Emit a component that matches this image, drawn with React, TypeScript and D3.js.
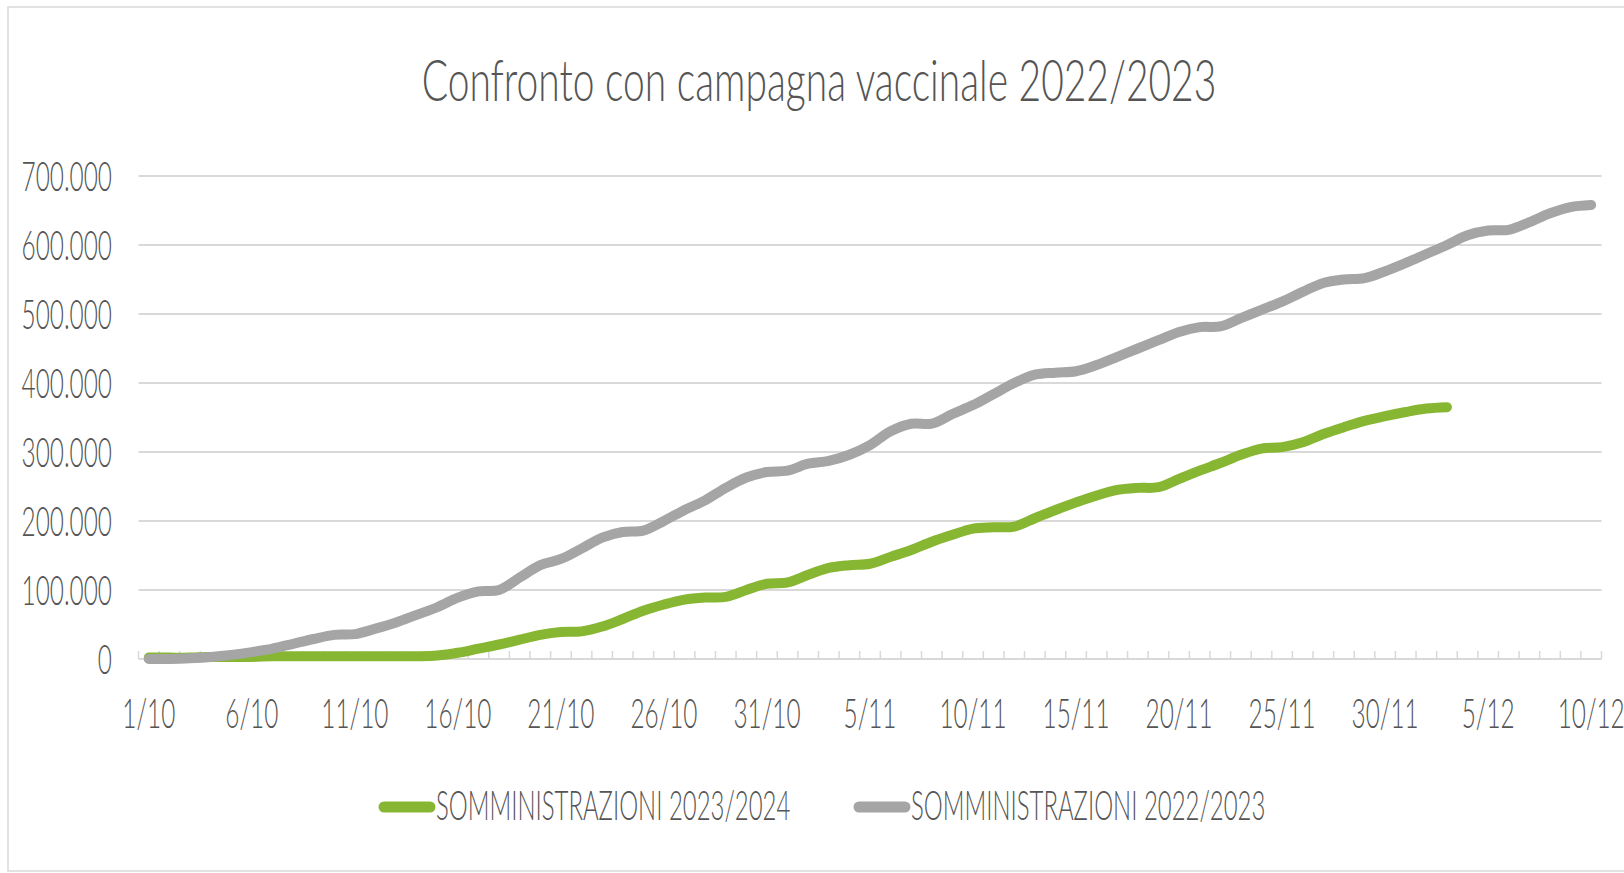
import * as d3 from "d3";

const W = 1624;
const H = 873;

const title = "Confronto con campagna vaccinale 2022/2023";
const seriesNames = ["SOMMINISTRAZIONI 2023/2024", "SOMMINISTRAZIONI 2022/2023"];
const seriesColors = ["#87b732", "#a5a5a5"];

// categories: one per day, 1/10 .. 10/12
const days = d3.timeDay.range(new Date(2023, 9, 1), new Date(2023, 11, 11));
const dayLabel = (d: Date) => `${d.getDate()}/${d.getMonth() + 1}`;
const tickLabels = ["1/10", "6/10", "11/10", "16/10", "21/10", "26/10", "31/10", "5/11", "10/11", "15/11", "20/11", "25/11", "30/11", "5/12", "10/12"];
const yTicks = [0, 100000, 200000, 300000, 400000, 500000, 600000, 700000];

// cumulative doses (thousands)
const doses2324 = [
  2, 2, 2, 3, 3, 3, 4, 4, 4, 4, 4, 4, 4, 4, 5, 9, 15, 21, 28, 35,
  39, 40, 47, 58, 70, 79, 86, 89, 90, 100, 109, 111, 122, 132, 136, 138, 148, 158, 170, 180,
  189, 191, 192, 204, 216, 227, 237, 245, 248, 249, 261, 273, 284, 296, 305, 307, 314, 326, 336, 345,
  352, 358, 363, 365,
];
const doses2223 = [
  0, 0, 1, 3, 6, 10, 15, 22, 29, 35, 36, 44, 53, 64, 75, 89, 98, 100, 118, 136,
  145, 160, 176, 184, 186, 200, 216, 230, 248, 263, 271, 273, 283, 287, 296, 310, 330, 341, 341, 355,
  368, 384, 400, 412, 415, 417, 426, 438, 450, 462, 474, 481, 482, 494, 506, 518, 532, 545, 550, 552,
  562, 574, 587, 600, 614, 621, 622, 633, 646, 655, 658,
];

const FONT = "Lato, 'Open Sans', sans-serif";
const TXT = "#555555";
const GRID = "#d9d9d9";

const itFormat = d3.formatLocale({ decimal: ",", thousands: ".", grouping: [3], currency: ["€", ""] }).format(",");

function Label({ x, y, anchor, size, sx = 0.58, children }: { x: number; y: number; anchor: string; size: number; sx?: number; children: any }) {
  return (
    <text
      transform={`translate(${x},${y}) scale(${sx},1)`}
      textAnchor={anchor}
      fontSize={size}
      fontFamily={FONT}
      fontWeight={300}
      fill={TXT}
    >
      {children}
    </text>
  );
}

export default function App() {
  const x = d3.scaleBand<string>().domain(days.map(dayLabel)).range([138.5, 1601.5]).padding(0);
  const bw = x.bandwidth();
  const y = d3.scaleLinear().domain([0, 700000]).range([659, 176]);
  const cx = (i: number) => (x(dayLabel(days[i])) as number) + bw / 2;

  const line = d3
    .line<number>()
    .x((_, i) => cx(i))
    .y((v) => y(v * 1000))
    .curve(d3.curveCatmullRom.alpha(0.5));

  const boundaries = d3.range(days.length + 1).map((k) => x.range()[0] + k * bw);

  return (
    <svg width={W} height={H} style={{ position: "fixed", left: 0, top: 0, background: "#fff" }}>
      <rect x={0} y={0} width={W} height={H} fill="#fff" />
      <rect x={8} y={7} width={W + 20} height={864} fill="none" stroke="#d9d9d9" strokeWidth={1.5} />

      <Label x={819} y={101} anchor="middle" size={58} sx={0.672}>{title}</Label>

      {yTicks.slice(1).map((t) => (
        <line key={t} x1={138.5} x2={1601.5} y1={y(t)} y2={y(t)} stroke={GRID} strokeWidth={2} />
      ))}
      {yTicks.map((t) => (
        <Label key={"l" + t} x={112} y={y(t) + 15} anchor="end" size={42}>{itFormat(t)}</Label>
      ))}

      <line x1={138.5} x2={1601.5} y1={y(0)} y2={y(0)} stroke={GRID} strokeWidth={2} />
      {boundaries.map((b, k) => (
        <line key={"t" + k} x1={b} x2={b} y1={y(0)} y2={y(0) - 8} stroke={GRID} strokeWidth={1.5} />
      ))}
      {tickLabels.map((l) => (
        <Label key={l} x={(x(l) as number) + bw / 2} y={728} anchor="middle" size={42}>{l}</Label>
      ))}

      <path d={line(doses2324) || ""} fill="none" stroke={seriesColors[0]} strokeWidth={10} strokeLinecap="round" strokeLinejoin="round" />
      <path d={line(doses2223) || ""} fill="none" stroke={seriesColors[1]} strokeWidth={10} strokeLinecap="round" strokeLinejoin="round" />

      {seriesNames.map((name, i) => {
        const x0 = i === 0 ? 380 : 855;
        return (
          <g key={name}>
            <line x1={x0 + 4} x2={x0 + 50} y1={807} y2={807} stroke={seriesColors[i]} strokeWidth={11} strokeLinecap="round" />
            <Label x={x0 + 56} y={820} anchor="start" size={42} sx={0.57}>{name}</Label>
          </g>
        );
      })}
    </svg>
  );
}
